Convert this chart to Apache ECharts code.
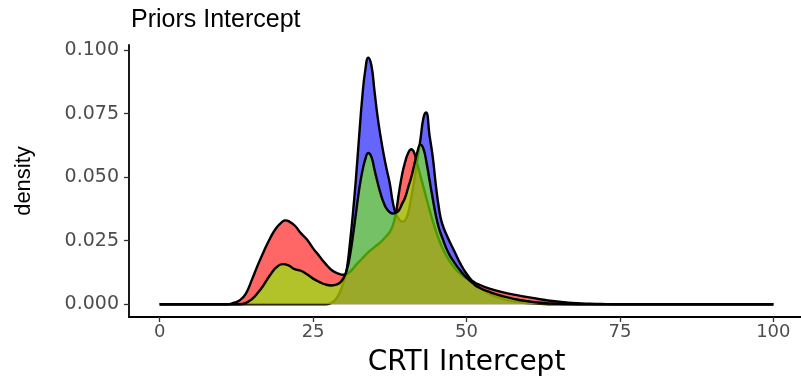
<!DOCTYPE html>
<html>
<head>
<meta charset="utf-8">
<script src="https://cdn.jsdelivr.net/npm/echarts@6/dist/echarts.min.js"></script>
<style>
  html, body { margin: 0; padding: 0; background: #fff; }
  #main { width: 801px; height: 376px; }
</style>
</head>
<body>
<div id="main"></div>
<script>
// density curves (x = CRTI intercept, y = density)
var blueX = [0, 27, 28, 28.5, 29, 29.5, 30, 30.5, 31, 31.5, 32, 32.5, 33, 33.5, 34, 34.5, 35, 35.5, 36, 36.5, 37, 37.5, 38, 38.5, 39, 39.5, 40, 40.5, 41, 41.5, 42, 42.5, 43, 43.4, 44, 44.5, 45, 45.5, 46, 47, 48, 49, 50, 51, 52, 54, 56, 58, 60, 62, 64, 100];
var blueY = [0, 0, 0.0006, 0.0015, 0.003, 0.0055, 0.0092, 0.014, 0.024, 0.036, 0.050, 0.066, 0.081, 0.092, 0.097, 0.094, 0.084, 0.074, 0.066, 0.059, 0.053, 0.0475, 0.040, 0.0355, 0.0335, 0.0325, 0.033, 0.036, 0.042, 0.049, 0.057, 0.065, 0.0735, 0.0755, 0.066, 0.058, 0.047, 0.038, 0.032, 0.026, 0.021, 0.016, 0.012, 0.009, 0.0068, 0.0038, 0.002, 0.001, 0.0005, 0.0002, 0, 0];

var redX = [0, 11, 12, 13, 14, 15, 16, 17, 18, 19, 20, 20.5, 21, 22, 23, 24, 25, 26, 27, 28, 29, 30, 31, 32, 33, 34, 35, 36, 37, 37.5, 38, 38.5, 39, 39.5, 40, 40.5, 41, 41.5, 42, 43, 44, 45, 46, 47, 48, 49, 50, 51, 52, 53, 54, 56, 58, 60, 62, 64, 66, 68, 70, 72, 74, 100];
var redY = [0, 0, 0.0005, 0.0015, 0.004, 0.0095, 0.0155, 0.021, 0.026, 0.030, 0.0325, 0.033, 0.0327, 0.031, 0.028, 0.0255, 0.022, 0.019, 0.016, 0.0135, 0.0122, 0.0116, 0.0128, 0.0155, 0.018, 0.0205, 0.0225, 0.0245, 0.027, 0.0285, 0.031, 0.036, 0.044, 0.051, 0.056, 0.0595, 0.061, 0.0595, 0.055, 0.046, 0.037, 0.029, 0.0225, 0.018, 0.0145, 0.012, 0.0102, 0.009, 0.0078, 0.0068, 0.006, 0.0047, 0.0037, 0.0028, 0.002, 0.0013, 0.0008, 0.0004, 0.0002, 0.0001, 0, 0];

var greenX = [0, 13, 14, 15, 16, 17, 18, 19, 20, 21, 22, 23, 24, 25, 26, 27, 28, 29, 29.5, 30, 30.5, 31, 31.5, 32, 32.5, 33, 33.5, 34, 34.5, 35, 35.5, 36, 36.5, 37, 37.5, 38, 38.5, 39, 39.5, 40, 40.5, 41, 41.5, 42, 42.5, 43, 43.5, 44, 44.5, 45, 45.5, 46, 47, 48, 49, 50, 51, 52, 54, 56, 58, 60, 62, 64, 66, 68, 100];
var greenY = [0, 0, 0.0005, 0.002, 0.0045, 0.0078, 0.0115, 0.0145, 0.0158, 0.0153, 0.0138, 0.0132, 0.0118, 0.0101, 0.0088, 0.0078, 0.0074, 0.0079, 0.0088, 0.0105, 0.0135, 0.019, 0.027, 0.036, 0.045, 0.052, 0.057, 0.0595, 0.058, 0.053, 0.048, 0.0435, 0.040, 0.0375, 0.0362, 0.0357, 0.036, 0.037, 0.0395, 0.042, 0.046, 0.050, 0.055, 0.060, 0.0628, 0.061, 0.0555, 0.0485, 0.0415, 0.035, 0.030, 0.0265, 0.0205, 0.0165, 0.0132, 0.0105, 0.0083, 0.0066, 0.0046, 0.0031, 0.002, 0.0012, 0.0006, 0.0003, 0.0001, 0, 0];

var xTicks = [0, 25, 50, 75, 100];
var yTicks = [0, 0.025, 0.05, 0.075, 0.1];

function pairs(xs, ys) {
  return xs.map(function (x, i) { return [x, ys[i]]; });
}

// each density: fill then black outline, later ones painted over earlier ones
function densitySeries(name, xs, ys, fill, z) {
  return {
    name: name,
    type: 'line',
    z: z,
    data: pairs(xs, ys),
    smooth: 0.5,
    showSymbol: false,
    silent: true,
    lineStyle: { color: '#000', width: 2.4, join: 'round' },
    areaStyle: { color: fill, opacity: 1 }
  };
}

var chart = echarts.init(document.getElementById('main'));
chart.setOption({
  animation: false,
  backgroundColor: '#fff',
  title: {
    text: 'Priors Intercept',
    left: 126,
    top: 3,
    textStyle: { fontFamily: 'Liberation Sans', fontSize: 25, fontWeight: 'normal', color: '#000' }
  },
  grid: { left: 129, top: 45, width: 675, height: 272, outerBoundsMode: 'none' },
  xAxis: {
    type: 'value',
    min: -5,
    max: 105,
    name: 'CRTI Intercept',
    nameLocation: 'middle',
    nameGap: 32,
    nameTextStyle: { fontFamily: 'DejaVu Sans', fontSize: 28, color: '#000' },
    axisLine: { onZero: false, lineStyle: { color: '#000', width: 1.8 } },
    axisTick: { customValues: xTicks, length: 5, lineStyle: { color: '#333', width: 1.3 } },
    axisLabel: {
      customValues: xTicks,
      fontFamily: 'DejaVu Sans', fontSize: 18, color: '#4d4d4d', margin: 6
    },
    splitLine: { show: false }
  },
  yAxis: {
    type: 'value',
    min: -0.005,
    max: 0.102,
    name: 'density',
    nameLocation: 'middle',
    nameRotate: 90,
    nameGap: 94,
    nameTextStyle: { fontFamily: 'Liberation Sans', fontSize: 22, color: '#000' },
    axisLine: { show: true, onZero: false, lineStyle: { color: '#000', width: 1.8 } },
    axisTick: { show: true, customValues: yTicks, length: 5, lineStyle: { color: '#333', width: 1.3 } },
    axisLabel: {
      customValues: yTicks,
      formatter: function (v) { return v.toFixed(3); },
      fontFamily: 'DejaVu Sans', fontSize: 19, color: '#4d4d4d', margin: 10
    },
    splitLine: { show: false }
  },
  series: [
    densitySeries('blue', blueX, blueY, 'rgba(0,0,255,0.6)', 2),
    densitySeries('red', redX, redY, 'rgba(255,0,0,0.6)', 3),
    densitySeries('green', greenX, greenY, 'rgba(127,255,0,0.6)', 4)
  ]
});
</script>
</body>
</html>
